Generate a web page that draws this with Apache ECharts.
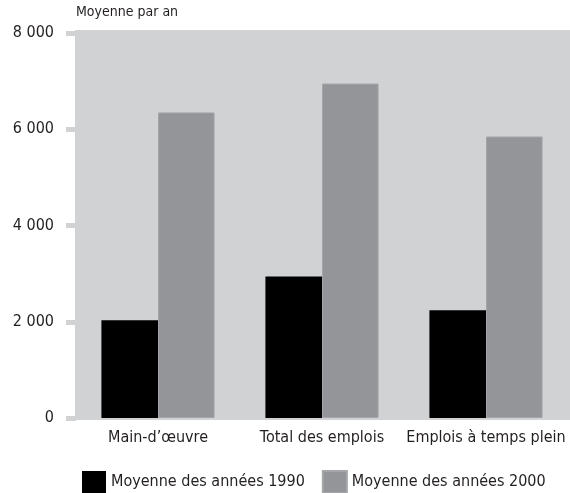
<!DOCTYPE html>
<html>
<head>
<meta charset="utf-8">
<style>
  html, body { margin: 0; padding: 0; background: #fff; }
  #chart { width: 570px; height: 493px; }
</style>
<script src="https://cdn.jsdelivr.net/npm/echarts@6/dist/echarts.min.js"></script>
</head>
<body>
<div id="chart"></div>
<script>
  var categories = ['Main-d\u2019\u0153uvre', 'Total des emplois', 'Emplois \u00e0 temps plein']
  var seriesNames = ['Moyenne des ann\u00e9es 1990', 'Moyenne des ann\u00e9es 2000']
  var avg1990 = [2030, 2940, 2240]
  var avg2000 = [6350, 6950, 5850]
  var yTicks = [0, 2000, 4000, 6000, 8000]

  var font = 'DejaVu Sans Condensed'
  var chart = echarts.init(document.getElementById('chart'))

  function fmt (v) {
    return String(v).replace(/\B(?=(\d{3})+(?!\d))/g, ' ')
  }

  chart.setOption({
    animation: false,
    textStyle: { fontFamily: font, color: '#231f20' },
    graphic: [{
      type: 'rect',
      z: -10,
      silent: true,
      shape: { x: 75, y: 30, width: 495, height: 390 },
      style: { fill: '#d1d2d4' }
    }],
    grid: { left: 76, right: 2, top: 33, bottom: 75 },
    legend: {
      left: 77,
      top: 465,
      itemWidth: 24,
      itemHeight: 22,
      itemGap: 17,
      icon: 'rect',
      textStyle: { fontFamily: font, fontSize: 16, color: '#231f20' },
      data: seriesNames
    },
    xAxis: {
      type: 'category',
      data: categories,
      axisLine: { show: false },
      axisTick: { show: false },
      axisLabel: { interval: 0, margin: 12, fontSize: 16, color: '#231f20', fontFamily: font }
    },
    yAxis: {
      type: 'value',
      min: yTicks[0],
      max: yTicks[yTicks.length - 1],
      interval: 2000,
      name: 'Moyenne par an',
      nameLocation: 'end',
      nameGap: 14,
      nameTextStyle: { align: 'left', fontSize: 14, color: '#231f20', fontFamily: font },
      axisLine: { show: false },
      splitLine: { show: false },
      axisTick: { show: true, length: 10, lineStyle: { color: '#d1d2d4', width: 5 } },
      axisLabel: { margin: 22, fontSize: 16, color: '#231f20', fontFamily: font, formatter: fmt }
    },
    series: [
      {
        name: seriesNames[0],
        type: 'bar',
        data: avg1990,
        barWidth: '34.5%',
        barGap: '0%',
        itemStyle: { color: '#000000' }
      },
      {
        name: seriesNames[1],
        type: 'bar',
        data: avg2000,
        barWidth: '34.5%',
        itemStyle: { color: '#939598', borderColor: '#a4a6a9', borderWidth: 1 }
      }
    ]
  })
</script>
</body>
</html>
